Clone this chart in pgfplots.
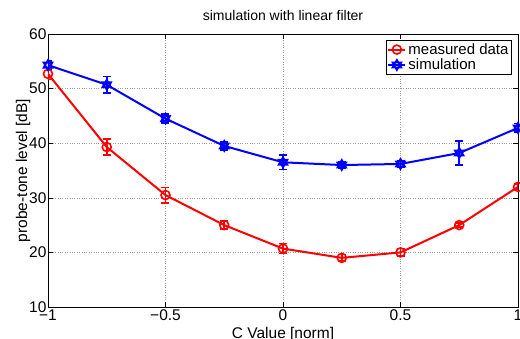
\documentclass[border=0pt]{standalone}
\usepackage{pgfplots}
\pgfplotsset{compat=1.18}
\usepackage{fontspec}
\setmainfont{Liberation Sans}
\pgfdeclareplotmark{hexagram}{%
  \pgfpathmoveto{\pgfqpointpolar{90}{\pgfplotmarksize}}%
  \pgfpathlineto{\pgfqpointpolar{210}{\pgfplotmarksize}}%
  \pgfpathlineto{\pgfqpointpolar{330}{\pgfplotmarksize}}%
  \pgfpathclose
  \pgfpathmoveto{\pgfqpointpolar{270}{\pgfplotmarksize}}%
  \pgfpathlineto{\pgfqpointpolar{30}{\pgfplotmarksize}}%
  \pgfpathlineto{\pgfqpointpolar{150}{\pgfplotmarksize}}%
  \pgfpathclose
  \pgfusepathqstroke}
\begin{document}
\begin{tikzpicture}
\begin{axis}[
  at={(0,0)}, anchor=south west,
  scale only axis, width=470pt, height=273pt,
  xmin=-1, xmax=1, ymin=10, ymax=60,
  xtick={-1,-0.5,0,0.5,1},
  xticklabels={−1,−0.5,0,0.5,1},
  ytick={10,20,30,40,50,60},
  /pgf/number format/assume math mode=true,
  tick align=inside, tick pos=both,
  major tick length=5pt,
  axis line style={line width=0.9pt},
  tick style={line width=0.6pt, black},
  grid=major,
  grid style={dotted, gray!80, line width=0.6pt},
  ticklabel style={font=\fontsize{15.5}{17}\selectfont},
  xticklabel style={yshift=1pt},
  yticklabel style={xshift=2pt},
  title={simulation with linear filter},
  title style={font=\fontsize{14}{16}\selectfont, yshift=4pt},
  xlabel={C Value [norm]},
  ylabel={probe-tone level [dB]},
  label style={font=\fontsize{15.5}{17}\selectfont},
  xlabel style={yshift=0pt},
  ylabel style={yshift=-8pt},
  legend style={at={(rel axis cs:0.987,0.978)}, anchor=north east,
    font=\fontsize{15}{16}\selectfont, draw=black, line width=0.8pt,
    inner sep=1pt, row sep=-1pt, cells={anchor=west}},
  legend cell align=left,
]
\addplot[red, line width=2pt, mark=o, mark size=4.5pt, mark options={line width=1.6pt},
  error bars/.cd, y dir=both, y explicit,
  error bar style={line width=1.6pt},
  error mark=-,
  error mark options={rotate=90, mark size=4pt, line width=1.6pt}]
  table[x=x, y=y, y error=e] {
x y e
-1 52.7 1.0
-0.75 39.3 1.5
-0.5 30.5 1.4
-0.25 25.0 0.7
0 20.7 0.9
0.25 19.0 0.6
0.5 20.0 0.7
0.75 25.0 0.4
1 32.0 0.5
};
\addlegendentry{measured data}
\addplot[blue, line width=2pt, mark=hexagram, mark size=5pt, mark options={line width=1.8pt},
  error bars/.cd, y dir=both, y explicit,
  error bar style={line width=1.6pt},
  error mark=-,
  error mark options={rotate=90, mark size=4pt, line width=1.6pt}]
  table[x=x, y=y, y error=e] {
x y e
-1 54.3 0.8
-0.75 50.7 1.5
-0.5 44.5 0.8
-0.25 39.5 0.7
0 36.5 1.3
0.25 36.0 0.6
0.5 36.2 0.6
0.75 38.2 2.2
1 42.8 0.8
};
\addlegendentry{simulation}
\end{axis}
\pgfresetboundingbox
\path[use as bounding box] (-48pt,-31pt) rectangle (472pt,307pt);
\end{tikzpicture}
\end{document}
